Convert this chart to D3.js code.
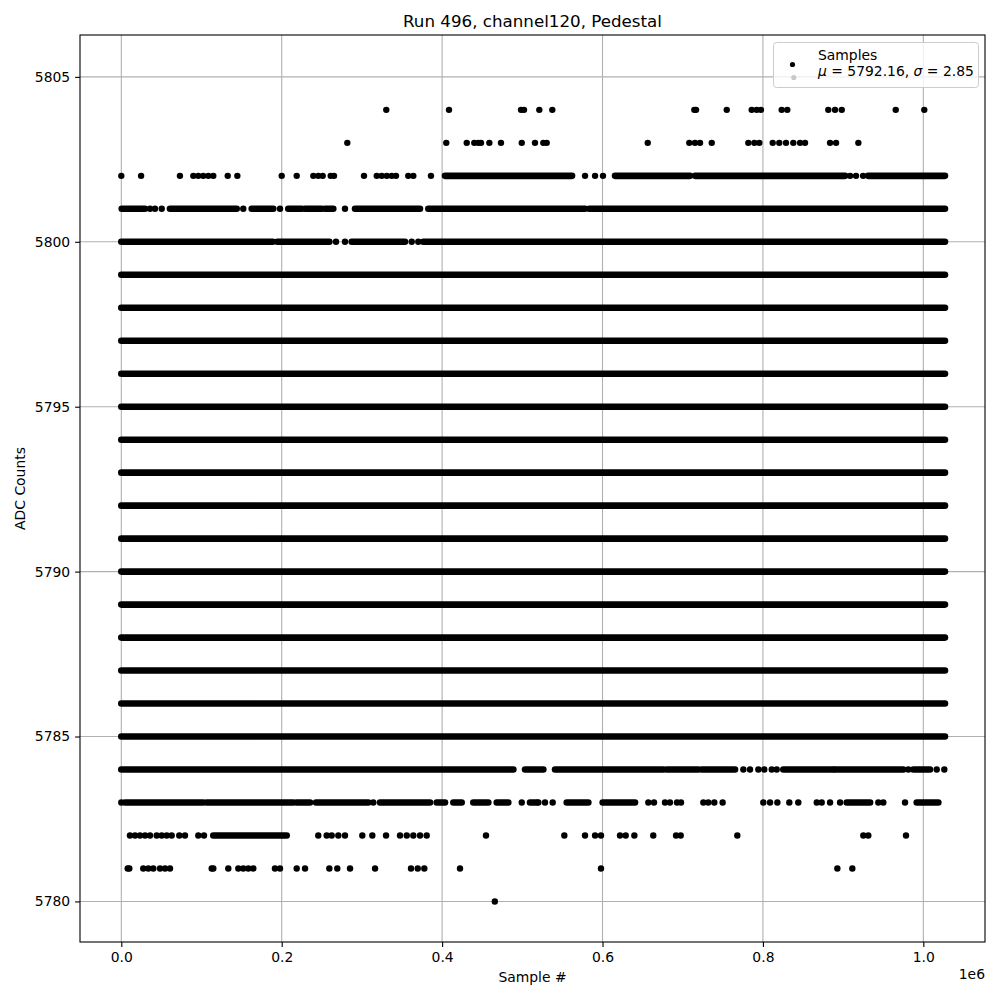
<!doctype html>
<html lang="">
<head>
<meta charset="utf-8">
<title>Run 496, channel120, Pedestal</title>
<script src="https://cdn.jsdelivr.net/npm/d3@7"></script>
<style>
  body { margin: 0; background: #fff; }
  text { font-family: "DejaVu Sans", sans-serif; fill: #000; }
</style>
</head>
<body>
<div id="chart"></div>
<script>

// sample index is in units of 1e6
var xTicks = [0.0, 0.2, 0.4, 0.6, 0.8, 1.0];
var yTicks = [5780, 5785, 5790, 5795, 5800, 5805];

// levels that are filled from first to last sample
var fullLevels = [5785, 5786, 5787, 5788, 5789, 5790, 5791, 5792, 5793, 5794, 5795, 5796, 5797, 5798, 5799];
var lastSample = 1.027;

// [level, from, to] stretches where samples are packed together
var denseRuns = [
    [5802, 0.4036, 0.5620], [5802, 0.6156, 0.7091], [5802, 0.7154, 0.9024], [5802, 0.9311, 1.0270],
    [5801, 0.0005, 0.0295], [5801, 0.0607, 0.1439], [5801, 0.1626, 0.1895], [5801, 0.2082, 0.2249],
    [5801, 0.2290, 0.2499], [5801, 0.2540, 0.2643], [5801, 0.2914, 0.3724], [5801, 0.3828, 0.5782],
    [5801, 0.5835, 1.0270],
    [5800, 0.0, 0.1888], [5800, 0.1945, 0.2594], [5800, 0.2873, 0.3537], [5800, 0.3766, 1.0270],
    [5784, 0.0, 0.4888], [5784, 0.5034, 0.5262], [5784, 0.5408, 0.6758], [5784, 0.6800, 0.7195],
    [5784, 0.7237, 0.7652], [5784, 0.8254, 0.8878], [5784, 0.8899, 0.9751], [5784, 0.9875, 1.0083],
    [5783, 0.0046, 0.1022], [5783, 0.1065, 0.2145], [5783, 0.2187, 0.2353], [5783, 0.2428, 0.3080],
    [5783, 0.3226, 0.3849], [5783, 0.3933, 0.4036], [5783, 0.4140, 0.4244], [5783, 0.4389, 0.4576],
    [5783, 0.4681, 0.4825], [5783, 0.5096, 0.5180], [5783, 0.5554, 0.5823], [5783, 0.6002, 0.6405],
    [5783, 0.9045, 0.9336], [5783, 0.9918, 1.0187],
    [5782, 0.1147, 0.2062]
];

// single samples, by level
var pts5804 = [0.3304, 0.4086, 0.4984, 0.5021, 0.5212, 0.5374, 0.7145, 0.7166, 0.7549, 0.7860, 0.7923,
    0.7976, 0.8234, 0.8304, 0.8815, 0.8899, 0.8983, 0.9656, 1.0012];
var pts5803 = [0.2818, 0.4052, 0.4307, 0.4401, 0.4451, 0.4485, 0.4589, 0.4734, 0.4993, 0.5158, 0.5262,
    0.5304, 0.6564, 0.7082, 0.7153, 0.7216, 0.7362, 0.7818, 0.7893, 0.7955, 0.8122, 0.8204, 0.8288,
    0.8379, 0.8463, 0.8525, 0.8837, 0.8912, 0.9190];
var pts5802 = [0.0, 0.0247, 0.0731, 0.0898, 0.0960, 0.1022, 0.1085, 0.1147, 0.1327, 0.1447, 0.2000,
    0.2187, 0.2394, 0.2456, 0.2511, 0.2611, 0.2652, 0.3026, 0.3185, 0.3247, 0.3310, 0.3372, 0.3425,
    0.3578, 0.3641, 0.3861, 0.5782, 0.5907, 0.6006, 0.9087, 0.9161, 0.9249];
var pts5801 = [0.0358, 0.0420, 0.0504, 0.1521, 0.1979, 0.2789];
var pts5800 = [0.2677, 0.2789, 0.3621, 0.3703];
var pts5784 = [0.7756, 0.7839, 0.7943, 0.8017, 0.8110, 0.8172, 0.9813, 1.0167, 1.0262];
var pts5783 = [0.0, 0.3142, 0.4993, 0.5200, 0.5283, 0.5379, 0.6571, 0.6642, 0.6779, 0.6841, 0.6929,
    0.6979, 0.7257, 0.7319, 0.7394, 0.7498, 0.8005, 0.8089, 0.8180, 0.8329, 0.8441, 0.8671, 0.8733,
    0.8837, 0.8962, 0.9439, 0.9501, 0.9772];
var pts5782 = [0.0108, 0.0171, 0.0233, 0.0296, 0.0358, 0.0441, 0.0504, 0.0566, 0.0628, 0.0723, 0.0794,
    0.0960, 0.1031, 0.2456, 0.2561, 0.2623, 0.2706, 0.2789, 0.3005, 0.3130, 0.3301, 0.3475, 0.3559,
    0.3641, 0.3725, 0.3808, 0.4547, 0.5524, 0.5782, 0.5907, 0.5981, 0.6218, 0.6289, 0.6397, 0.6633,
    0.6917, 0.6975, 0.7681, 0.9252, 0.9314, 0.9784];
var pts5781 = [0.0080, 0.0100, 0.0274, 0.0337, 0.0399, 0.0483, 0.0545, 0.0607, 0.1127, 0.1147, 0.1334,
    0.1459, 0.1521, 0.1584, 0.1646, 0.1916, 0.1979, 0.2187, 0.2291, 0.2594, 0.2693, 0.2852, 0.3164,
    0.3612, 0.3696, 0.3778, 0.4223, 0.5981, 0.8928, 0.9115];
var pts5780 = [0.4657];

var singles = [
    [5804, pts5804], [5803, pts5803], [5802, pts5802], [5801, pts5801], [5800, pts5800],
    [5784, pts5784], [5783, pts5783], [5782, pts5782], [5781, pts5781], [5780, pts5780]
];

var W = 1000, H = 1000;
// plot box edges (can't call it "top", the window owns that name)
var pLeft = 80, pRight = 985, pTop = 35, pBottom = 942;
var dotR = 3.2;

var svg = d3.select("#chart").append("svg").attr("width", W).attr("height", H);
svg.append("rect").attr("width", W).attr("height", H).attr("fill", "#fff");

var x = d3.scaleLinear().domain([-0.0515, 1.0769]).range([pLeft, pRight]);
var y = d3.scaleLinear().domain([5778.77, 5806.27]).range([pBottom, pTop]);

// grid
svg.append("g").selectAll("line").data(xTicks).enter().append("line")
    .attr("x1", function(d){ return x(d); }).attr("x2", function(d){ return x(d); })
    .attr("y1", pTop).attr("y2", pBottom)
    .attr("stroke", "#b0b0b0").attr("stroke-width", 1.1);
svg.append("g").selectAll("line").data(yTicks).enter().append("line")
    .attr("y1", function(d){ return y(d); }).attr("y2", function(d){ return y(d); })
    .attr("x1", pLeft).attr("x2", pRight)
    .attr("stroke", "#b0b0b0").attr("stroke-width", 1.1);

// data
var runs = fullLevels.map(function(l){ return [l, 0, lastSample]; }).concat(denseRuns);
svg.append("g").selectAll("line").data(runs).enter().append("line")
    .attr("x1", function(d){ return x(d[1]); }).attr("x2", function(d){ return x(d[2]); })
    .attr("y1", function(d){ return y(d[0]); }).attr("y2", function(d){ return y(d[0]); })
    .attr("stroke", "#000").attr("stroke-width", 6.6).attr("stroke-linecap", "round");

var flat = [];
singles.forEach(function(s){
    s[1].forEach(function(v){ flat.push([s[0], v]); });
});
svg.append("g").selectAll("circle").data(flat).enter().append("circle")
    .attr("cx", function(d){ return x(d[1]); })
    .attr("cy", function(d){ return y(d[0]); })
    .attr("r", dotR).attr("fill", "#000");

// axes
var xAxis = svg.append("g").attr("transform", "translate(0," + pBottom + ")")
    .call(d3.axisBottom(x).tickValues(xTicks).tickFormat(d3.format(".1f")).tickSizeOuter(0).tickSize(4.9).tickPadding(4.9));
var yAxis = svg.append("g").attr("transform", "translate(" + pLeft + ",0)")
    .call(d3.axisLeft(y).tickValues(yTicks).tickFormat(d3.format("d")).tickSizeOuter(0).tickSize(4.9).tickPadding(4.9));
[xAxis, yAxis].forEach(function(a){
    a.select(".domain").remove();
    a.selectAll(".tick line").attr("stroke", "#000").attr("stroke-width", 1.1);
    a.selectAll(".tick text").attr("font-family", "DejaVu Sans").attr("font-size", "13.9px").attr("fill", "#000");
});

svg.append("rect").attr("x", pLeft).attr("y", pTop).attr("width", pRight - pLeft).attr("height", pBottom - pTop)
    .attr("fill", "none").attr("stroke", "#000").attr("stroke-width", 1.1);

// labels
svg.append("text").attr("x", (pLeft + pRight) / 2).attr("y", 27).attr("text-anchor", "middle")
    .attr("font-size", "16.7px").text("Run 496, channel120, Pedestal");
svg.append("text").attr("x", (pLeft + pRight) / 2).attr("y", 982).attr("text-anchor", "middle")
    .attr("font-size", "13.9px").text("Sample #");
svg.append("text").attr("transform", "translate(25," + (pTop + pBottom) / 2 + ") rotate(-90)")
    .attr("text-anchor", "middle").attr("font-size", "13.9px").text("ADC Counts");
svg.append("text").attr("x", pRight).attr("y", 979).attr("text-anchor", "end")
    .attr("font-size", "13.9px").text("1e6");

// legend
var lg = svg.append("g");
lg.append("rect").attr("x", 773.5).attr("y", 42.5).attr("width", 205).attr("height", 45).attr("rx", 3)
    .attr("fill", "#fff").attr("fill-opacity", 0.8).attr("stroke", "#cccccc").attr("stroke-width", 1);
lg.append("circle").attr("cx", 792.5).attr("cy", 64.5).attr("r", 2.6).attr("fill", "#000");
lg.append("circle").attr("cx", 793.8).attr("cy", 77.5).attr("r", 2.6).attr("fill", "#c8c8c8");
lg.append("text").attr("x", 818).attr("y", 60).attr("font-size", "13.9px").text("Samples");
var t2 = lg.append("text").attr("x", 818).attr("y", 76).attr("font-size", "13.9px");
t2.append("tspan").attr("font-style", "italic").text("\u03bc");
t2.append("tspan").text(" = 5792.16, ");
t2.append("tspan").attr("font-style", "italic").text("\u03c3");
t2.append("tspan").text(" = 2.85");

</script>
</body>
</html>
